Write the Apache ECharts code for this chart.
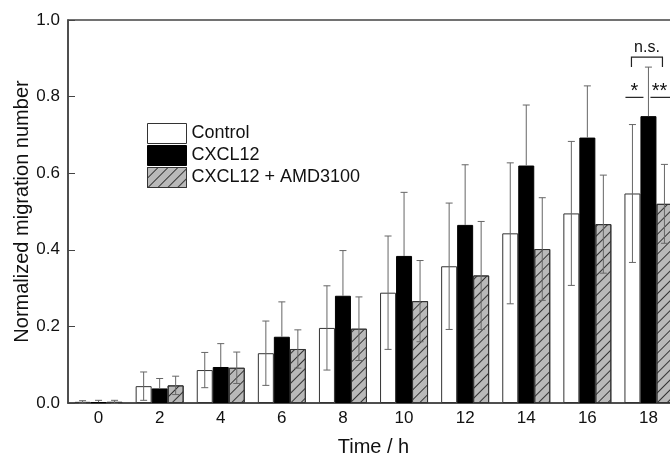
<!DOCTYPE html>
<html><head><meta charset="utf-8">
<script src="https://cdn.jsdelivr.net/npm/echarts@6/dist/echarts.min.js"></script>
<style>html,body{margin:0;padding:0;background:#fff}#c{width:670px;height:458px}</style>
</head><body><div id="c"></div>
<script>
var categories = ['0','2','4','6','8','10','12','14','16','18'];
var seriesNames = ['Control','CXCL12','CXCL12 + AMD3100'];
var controlMean = [0.003,0.044,0.086,0.130,0.196,0.288,0.357,0.443,0.495,0.547];
var controlErr  = [0.003,0.037,0.046,0.084,0.110,0.148,0.165,0.184,0.188,0.180];
var cxclMean    = [0.002,0.038,0.094,0.173,0.280,0.384,0.465,0.620,0.693,0.749];
var cxclErr     = [0.005,0.026,0.061,0.091,0.118,0.166,0.157,0.158,0.135,0.128];
var amdMean     = [0.003,0.046,0.092,0.141,0.194,0.266,0.333,0.402,0.467,0.520];
var amdErr      = [0.004,0.024,0.041,0.050,0.083,0.106,0.141,0.134,0.128,0.103];
var yTicks = [0,0.2,0.4,0.6,0.8,1.0];
// significance annotations at time 18
var annotations = [
  {type:'bracket', label:'n.s.', from:0, to:2, y:0.903, legY:0.877},
  {type:'line', label:'*', from:0, to:1, y:0.798},
  {type:'line', label:'**', from:1, to:2, y:0.798}
];

var FONT = '"Liberation Sans", Arial, sans-serif';
var BW = 16;
var means = [controlMean, cxclMean, amdMean];
var errs = [controlErr, cxclErr, amdErr];
var styles = [
  {color:'#ffffff', borderColor:'#333', borderWidth:1},
  {color:'#000000', borderColor:'#000', borderWidth:1},
  {color:'#b9b9b9', borderColor:'#333', borderWidth:1,
   decal:{symbol:'rect', symbolSize:1, color:'#333', dashArrayX:[1,0], dashArrayY:[1,6], rotation:-Math.PI/4}}
];

var series = [];
for (var s=0;s<3;s++){
  series.push({
    name: seriesNames[s], type:'bar', barWidth:BW, barGap:'0%',
    itemStyle: styles[s], data: means[s], z:2, animation:false
  });
}
for (var s2=0;s2<3;s2++){
  (function(si){
    var d = means[si].map(function(m,i){return [i, m-errs[si][i], m+errs[si][i], m];});
    series.push({
      type:'custom', z:5, silent:true, animation:false,
      data:d, encode:{x:0,y:[1,2]},
      renderItem:function(params, api){
        var ci = api.value(0);
        var x = api.coord([ci, 0])[0] + (si-1)*BW;
        var yh = api.coord([ci, api.value(2)])[1];
        var yl = api.coord([ci, api.value(1)])[1];
        var ym = api.coord([ci, api.value(3)])[1];
        var h = 3.5;
        var st = {stroke:'#666', lineWidth:1};
        var ch = [
          {type:'line', shape:{x1:x,y1:yh,x2:x,y2:(si===1?ym:yl)}, style:st},
          {type:'line', shape:{x1:x-h,y1:yh,x2:x+h,y2:yh}, style:st}
        ];
        if (si!==1) ch.push({type:'line', shape:{x1:x-h,y1:yl,x2:x+h,y2:yl}, style:st});
        return {type:'group', children:ch};
      }
    });
  })(s2);
}

var chart = echarts.init(document.getElementById('c'), null, {renderer:'canvas', devicePixelRatio:1});
chart.setOption({
  backgroundColor:'#fff',
  animation:false,
  grid:{left:68, top:20, width:611, bottom:55, containLabel:false, outerBoundsMode:'none',
        show:true, borderColor:'#444', borderWidth:1.5, backgroundColor:'transparent'},
  legend:{
    orient:'vertical', left:147, top:123, padding:0, itemWidth:39, itemHeight:20, itemGap:1,
    icon:'rect', data:seriesNames,
    itemStyle:{borderWidth:1},
    textStyle:{fontFamily:FONT, fontSize:18, color:'#111'}
  },
  xAxis:{
    type:'category', data:categories,
    axisLine:{lineStyle:{color:'#444', width:1.5}},
    axisTick:{show:false},
    axisLabel:{fontFamily:FONT, fontSize:17, color:'#111', margin:7},
    name:'Time / h', nameLocation:'middle', nameGap:34, nameMoveOverlap:false,
    nameTextStyle:{fontFamily:FONT, fontSize:20, color:'#111'}
  },
  yAxis:{
    type:'value', min:0, max:1, interval:0.2,
    axisLine:{show:true, lineStyle:{color:'#444', width:1.5}},
    axisTick:{show:true, inside:true, length:7, lineStyle:{color:'#444'}},
    splitLine:{show:false},
    axisLabel:{fontFamily:FONT, fontSize:17, color:'#111', margin:8,
      formatter:function(v){return v.toFixed(1);}},
    name:'Normalized migration number', nameLocation:'middle', nameGap:36, nameMoveOverlap:false,
    nameTextStyle:{fontFamily:FONT, fontSize:20, color:'#111'}
  },
  series:series
});

// annotations
(function(){
  var ci = categories.length-1;
  var cx = chart.convertToPixel({xAxisIndex:0}, categories[ci]);
  function bx(i){return cx + (i-1)*BW;}
  function py(v){return chart.convertToPixel({yAxisIndex:0}, v);}
  var els = [];
  var st = {stroke:'#222', lineWidth:1.2};
  annotations.forEach(function(a){
    if (a.type==='bracket'){
      var x1 = bx(a.from)-1, x2 = bx(a.to)-2, y=py(a.y), yl=py(a.legY);
      els.push({type:'polyline', shape:{points:[[x1,yl],[x1,y],[x2,y],[x2,yl]]}, style:{stroke:'#222', lineWidth:1.2, fill:null}, z:10});
      els.push({type:'text', x:(x1+x2)/2, y:y-2, style:{text:a.label, font:'16px '+FONT, fill:'#111', textAlign:'center', textVerticalAlign:'bottom'}, z:10});
    } else {
      var l1, l2;
      if (a.from===0){ l1 = bx(0)-7; l2 = bx(1)-5; }
      else { l1 = bx(1)+2; l2 = bx(2)+9; }
      var yy = py(a.y);
      els.push({type:'line', shape:{x1:l1,y1:yy,x2:l2,y2:yy}, style:st, z:10});
      els.push({type:'text', x:(a.from===0?(l1+l2)/2:l1+9), y:yy+4, style:{text:a.label, font:'20px '+FONT, fill:'#111', textAlign:'center', textVerticalAlign:'bottom'}, z:10});
    }
  });
  chart.setOption({graphic:{elements:els}});
})();
</script>
</body></html>
